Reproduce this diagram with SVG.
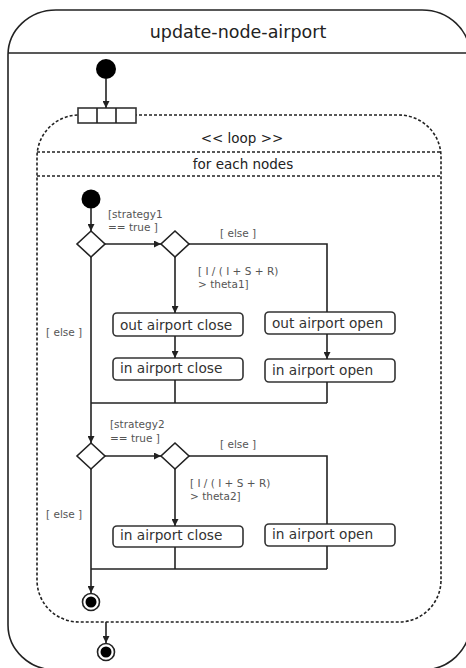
<svg xmlns="http://www.w3.org/2000/svg" width="466" height="668" viewBox="0 0 466 668">
<style>
.ln{fill:none;stroke:#222;stroke-width:1.6}
.dash{fill:none;stroke:#222;stroke-width:1.6;stroke-dasharray:3 2}
.box{fill:#fff;stroke:#333;stroke-width:1.6}
.dia{fill:#fff;stroke:#222;stroke-width:1.6}
.t{font-family:"DejaVu Sans",sans-serif;fill:#222}
.g{font-family:"DejaVu Sans",sans-serif;font-size:10.5px;fill:#555}
.lb{font-family:"DejaVu Sans",sans-serif;font-size:13.7px;fill:#333}
</style>
<defs>
<marker id="ah" viewBox="0 0 10 10" refX="10" refY="5" markerWidth="7" markerHeight="7" markerUnits="userSpaceOnUse" orient="auto"><path d="M0,0 L10,5 L0,10 z" fill="#222"/></marker>
</defs>
<rect width="466" height="668" fill="#fff"/>
<g id="frame">
<rect x="8" y="10" width="462" height="660" rx="48" ry="45" class="ln"/>
<line x1="8" y1="53" x2="470" y2="53" class="ln"/>
<text x="238" y="38" class="t" font-size="17.5" text-anchor="middle">update-node-airport</text>
</g>
<g id="loop">
<rect x="37" y="115" width="404" height="507" rx="42" ry="42" class="dash"/>
<line x1="37" y1="152" x2="441" y2="152" class="dash"/>
<line x1="37" y1="176" x2="441" y2="176" class="dash"/>
<text x="242" y="143" class="t" font-size="13.5" text-anchor="middle" fill="#333">&lt;&lt; loop &gt;&gt;</text>
<text x="243" y="169" class="t" font-size="13.5" text-anchor="middle" fill="#333">for each nodes</text>
</g>
<g id="pin">
<rect x="78" y="108" width="58" height="15" class="box"/>
<line x1="97" y1="108" x2="97" y2="123" class="ln"/>
<line x1="116" y1="108" x2="116" y2="123" class="ln"/>
</g>
<g id="start"><circle cx="106" cy="69" r="10" fill="#000"/></g>
<g id="start2"><circle cx="91" cy="199" r="9.5" fill="#000"/></g>
<g id="d1"><path d="M91,231 L105,244 L91,257 L77,244 z" class="dia"/></g>
<g id="d2"><path d="M175,231 L189,244 L175,257 L161,244 z" class="dia"/></g>
<g id="d3"><path d="M91,443 L105,456 L91,469 L77,456 z" class="dia"/></g>
<g id="d4"><path d="M175,443 L189,456 L175,469 L161,456 z" class="dia"/></g>
<g id="outClose1"><rect x="113" y="313" width="130" height="23" rx="4" class="box"/><text x="120" y="330" class="lb">out airport close</text></g>
<g id="outOpen1"><rect x="265" y="312" width="130" height="22" rx="4" class="box"/><text x="272" y="328" class="lb">out airport open</text></g>
<g id="inClose1"><rect x="113" y="358" width="130" height="22" rx="4" class="box"/><text x="120" y="373" class="lb">in airport close</text></g>
<g id="inOpen1"><rect x="265" y="359" width="130" height="23" rx="4" class="box"/><text x="272" y="375" class="lb">in airport open</text></g>
<g id="inClose2"><rect x="113" y="526" width="130" height="21" rx="4" class="box"/><text x="120" y="540" class="lb">in airport close</text></g>
<g id="inOpen2"><rect x="265" y="524" width="130" height="22" rx="4" class="box"/><text x="272" y="539" class="lb">in airport open</text></g>
<g id="final1"><circle cx="91" cy="602" r="8.5" fill="#fff" stroke="#222" stroke-width="1.6"/><circle cx="91" cy="602" r="5.5" fill="#000"/></g>
<g id="final2"><circle cx="106" cy="652" r="8.5" fill="#fff" stroke="#222" stroke-width="1.6"/><circle cx="106" cy="652" r="5.5" fill="#000"/></g>
<g id="connectors">
<line x1="106" y1="79" x2="106" y2="108" class="ln" marker-end="url(#ah)"/>
<line x1="91" y1="208" x2="91" y2="231" class="ln" marker-end="url(#ah)"/>
<line x1="105" y1="244" x2="161" y2="244" class="ln" marker-end="url(#ah)"/>
<polyline points="189,244 327,244 327,312" class="ln"/>
<line x1="175" y1="257" x2="175" y2="313" class="ln" marker-end="url(#ah)"/>
<line x1="175" y1="336" x2="175" y2="358" class="ln" marker-end="url(#ah)"/>
<line x1="327" y1="334" x2="327" y2="359" class="ln" marker-end="url(#ah)"/>
<line x1="175" y1="380" x2="175" y2="403" class="ln"/>
<line x1="327" y1="382" x2="327" y2="403" class="ln"/>
<line x1="91" y1="403" x2="327" y2="403" class="ln"/>
<line x1="91" y1="257" x2="91" y2="443" class="ln" marker-end="url(#ah)"/>
<line x1="105" y1="456" x2="161" y2="456" class="ln" marker-end="url(#ah)"/>
<polyline points="189,456 327,456 327,524" class="ln"/>
<line x1="175" y1="469" x2="175" y2="526" class="ln" marker-end="url(#ah)"/>
<line x1="175" y1="547" x2="175" y2="569" class="ln"/>
<line x1="327" y1="546" x2="327" y2="569" class="ln"/>
<line x1="91" y1="569" x2="327" y2="569" class="ln"/>
<line x1="91" y1="469" x2="91" y2="593" class="ln" marker-end="url(#ah)"/>
<line x1="106" y1="622" x2="106" y2="643" class="ln" marker-end="url(#ah)"/>
<text x="108" y="218" class="g">[strategy1</text>
<text x="108" y="231" class="g">== true ]</text>
<text x="220" y="237" class="g">[ else ]</text>
<text x="198" y="275" class="g">[ I  / ( I + S + R)</text>
<text x="198" y="288" class="g">&gt; theta1]</text>
<text x="46" y="336" class="g">[ else ]</text>
<text x="110" y="428" class="g">[strategy2</text>
<text x="110" y="442" class="g">== true ]</text>
<text x="220" y="448" class="g">[ else ]</text>
<text x="190" y="487" class="g">[ I  / ( I + S + R)</text>
<text x="190" y="500" class="g">&gt; theta2]</text>
<text x="46" y="518" class="g">[ else ]</text>
</g>
</svg>
